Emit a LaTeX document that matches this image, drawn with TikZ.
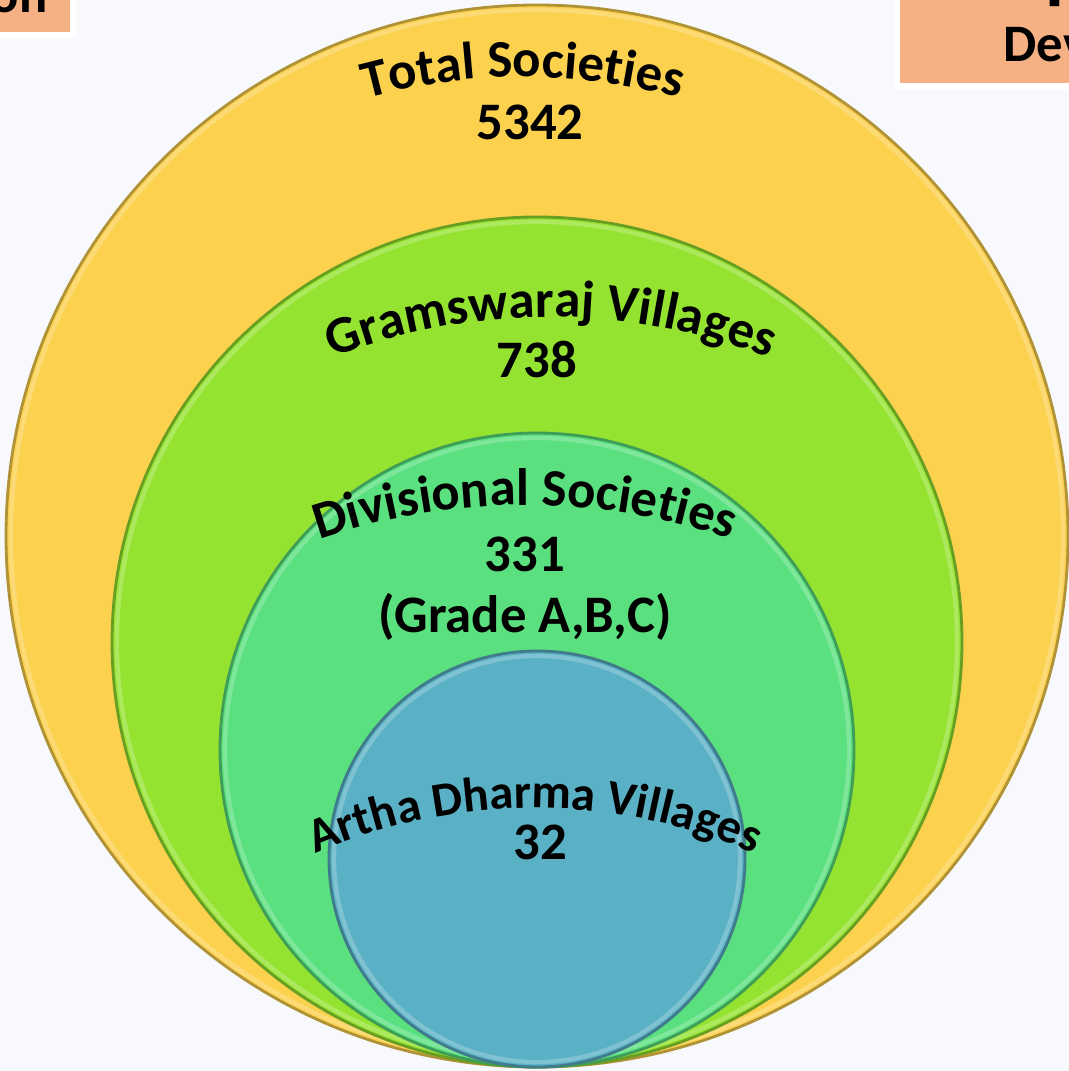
\documentclass[tikz,border=0pt]{standalone}
\usepackage{fontspec}
\setmainfont{Carlito}
\usetikzlibrary{decorations.text}
\definecolor{bgc}{HTML}{F8F9FD}
\definecolor{boxc}{HTML}{F5B183}
\definecolor{ringa}{HTML}{FCD14E}
\definecolor{ringb}{HTML}{95E331}
\definecolor{ringc}{HTML}{5AE07E}
\definecolor{ringd}{HTML}{5AB0C5}
\newcommand\lblfont{\bfseries\fontsize{15}{18}\selectfont}
\newcommand\smlfont{\bfseries\fontsize{13.8}{17}\selectfont}
\newcommand\boxfont{\bfseries\fontsize{15}{18}\selectfont}

\begin{document}
\begin{tikzpicture}[
    ring/.style={fill=#1, draw=#1!70!black, line width=0.8pt},
    rim/.style={draw=#1!55!white, line width=1.2pt, opacity=.5},
    arch/.style={decorate, decoration={text along path, text align=center, text={#1}}},
    num/.style={font=\lblfont, anchor=base, inner sep=0pt}]
    \useasboundingbox (0,0) rectangle (10.69,10.71);
    \clip (0,0) rectangle (10.69,10.71);
    \fill[bgc] (0,0) rectangle (10.69,10.71);

    \fill[white] (-1,10.33) rectangle (0.76,11);
    \fill[boxc] (-1,10.39) rectangle (0.70,11);
    \node[font=\boxfont, anchor=base east, inner sep=0pt] (tl) at (0.48,10.58) {on};
    \fill[white] (8.94,9.81) rectangle (11,11);
    \fill[boxc] (9.00,9.88) rectangle (11,11);
    \node[font=\boxfont, anchor=base west, inner sep=0pt] (tr) at (10.03,10.09) {Dev};
    \node[font=\bfseries\fontsize{22}{26}\selectfont, anchor=base west, inner sep=0pt] (trp) at (10.45,10.76) {p};

    \foreach \r/\c in {5.31/ringa,4.25/ringb,3.17/ringc,2.08/ringd} {
        \draw[ring=\c] (5.37,0.04+\r) circle (\r);
        \draw[rim=\c] (5.37,0.04+\r) circle (\r-0.05);
    }

    \path[arch={|\lblfont|Total Societies}] ([shift={(120:5.9)}]5.23,4.04) arc[start angle=120, end angle=60, radius=5.9];
    \node[num] (total) at (5.30,9.31) {5342};
    \path[arch={|\lblfont|Gramswaraj Villages}] ([shift={(125:6)}]5.51,1.54) arc[start angle=125, end angle=55, radius=6];
    \node[num] (gram) at (5.37,6.93) {738};
    \path[arch={|\lblfont|Divisional Societies}] ([shift={(125:6.3)}]5.25,-0.64) arc[start angle=125, end angle=55, radius=6.3];
    \node[num] (div) at (5.25,4.99) {331};
    \node[num] (grade) at (5.25,4.38) {(Grade A,B,C)};
    \path[arch={|\smlfont|Artha Dharma Villages}] ([shift={(125:5.5)}]5.35,-2.87) arc[start angle=125, end angle=55, radius=5.5];
    \node[num] (artha) at (5.40,2.11) {32};
\end{tikzpicture}
\end{document}
